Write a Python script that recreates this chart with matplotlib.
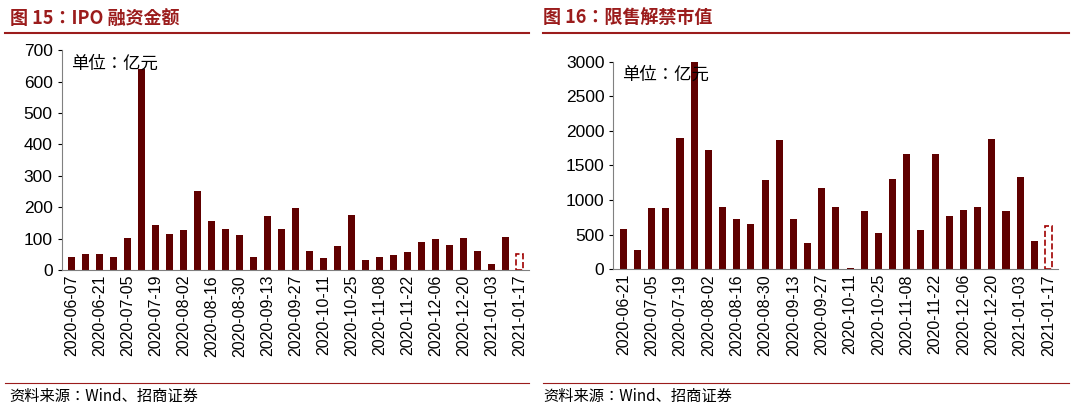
import matplotlib
matplotlib.use("Agg")
import matplotlib.pyplot as plt
import numpy as np
import pandas as pd

plt.rcParams['font.family'] = ['Liberation Sans']

ipo_dates = [d.strftime('%Y-%m-%d') for d in pd.date_range('2020-06-07', '2021-01-17', freq='7D')]
ipo_vals = [42,51,51,40,103,641,144,114,127,252,155,132,113,43,171,132,196,60,39,75,176,32,41,48,57,89,100,81,103,61,20,104,50]
unlock_dates = [d.strftime('%Y-%m-%d') for d in pd.date_range('2020-06-21', '2021-01-17', freq='7D')]
unlock_vals = [580,280,880,890,1890,2990,1720,900,720,650,1290,1870,720,380,1170,900,20,840,520,1310,1670,560,1660,770,850,900,1880,840,1330,410,620]

C = '#600000'
CJK = 'Noto Sans CJK JP'
fig = plt.figure(figsize=(10.8, 4.11), dpi=100)

def panel(rect, dates, vals, ymax, step, title, tx, lx0, lx1):
    ax = fig.add_axes(rect)
    x = np.arange(len(vals))
    ax.bar(x[:-1], vals[:-1], width=0.5, color=C)
    ax.bar(x[-1], vals[-1], width=0.5, facecolor='white', edgecolor='#a00000', linestyle='--', linewidth=1.2)
    ax.set_xlim(-0.7, len(vals) - 0.3)
    ax.set_ylim(0, ymax)
    ax.set_yticks(np.arange(0, ymax + 1, step))
    ax.set_xticks(x[::2])
    ax.set_xticklabels(dates[::2], rotation=90, fontsize=11.5)
    ax.tick_params(axis='y', labelsize=12.5, length=3)
    ax.tick_params(axis='x', length=0)
    for s in ['top', 'right']:
        ax.spines[s].set_visible(False)
    for s in ['left', 'bottom']:
        ax.spines[s].set_color('#808080')
    ax.text(0.02, 0.98, '单位：亿元', transform=ax.transAxes, fontsize=12.5,
            fontfamily=CJK, va='top', ha='left')
    fig.text(tx, 0.955, title, fontsize=13, fontweight='bold', color='#9b1c1c',
             fontfamily=CJK, va='center')
    fig.add_artist(plt.Line2D([lx0, lx1], [0.92, 0.92], color='#9b1c1c', lw=1.5))
    fig.add_artist(plt.Line2D([lx0, lx1], [0.068, 0.068], color='#9b1c1c', lw=0.8))
    fig.text(tx, 0.035, '资料来源：Wind、招商证券', fontsize=11, fontfamily=CJK, va='center')

panel([0.057, 0.343, 0.433, 0.535], ipo_dates, ipo_vals, 700, 100, '图 15：IPO 融资金额', 0.009, 0.005, 0.49)
panel([0.568, 0.345, 0.412, 0.505], unlock_dates, unlock_vals, 3000, 500, '图 16：限售解禁市值', 0.503, 0.503, 0.99)

fig.savefig('out.png', dpi=100)
